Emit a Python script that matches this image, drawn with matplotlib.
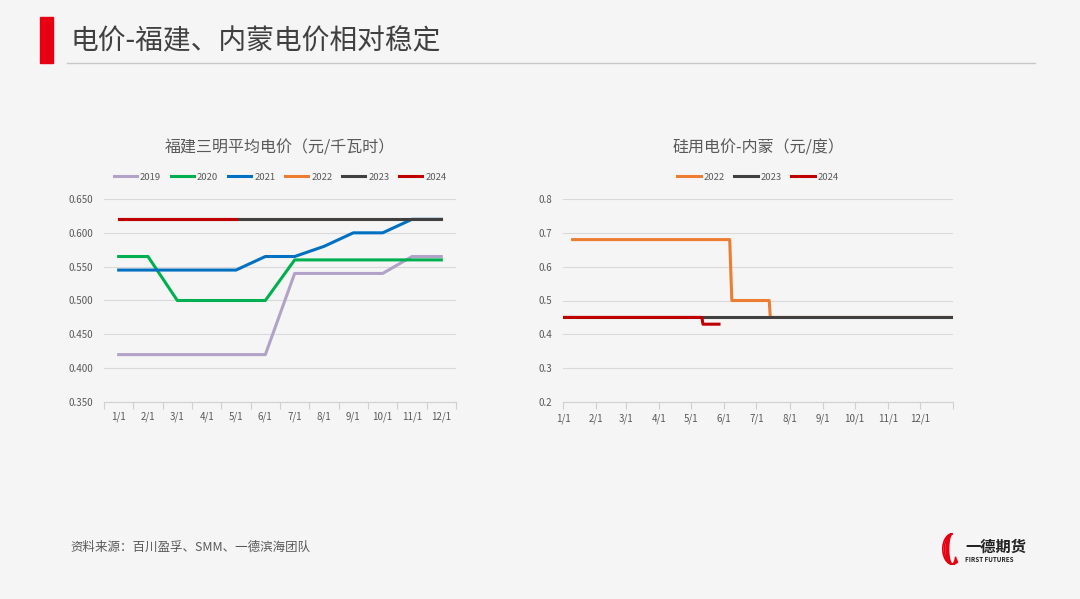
import matplotlib
matplotlib.use("Agg")
import matplotlib.pyplot as plt
from matplotlib.patches import Rectangle, Arc
import datetime as dt

plt.rcParams['font.family'] = ['Noto Sans CJK SC', 'DejaVu Sans']

# ---- data: Fujian Sanming average price (yuan/kWh), monthly categories
months = ['1/1', '2/1', '3/1', '4/1', '5/1', '6/1', '7/1', '8/1', '9/1', '10/1', '11/1', '12/1']
fj_2019 = [0.42, 0.42, 0.42, 0.42, 0.42, 0.42, 0.54, 0.54, 0.54, 0.54, 0.565, 0.565]
fj_2020 = [0.565, 0.565, 0.50, 0.50, 0.50, 0.50, 0.56, 0.56, 0.56, 0.56, 0.56, 0.56]
fj_2021 = [0.545, 0.545, 0.545, 0.545, 0.545, 0.565, 0.565, 0.58, 0.60, 0.60, 0.62, 0.62]
fj_2022 = [0.62] * 12
fj_2023 = [0.62] * 12
fj_2024 = [0.62, 0.62, 0.62, 0.62, 0.62]

# ---- data: Inner Mongolia silicon power price (yuan/kWh), by date
nm_2022_dates = ['01-10', '06-06', '06-08', '07-13', '07-14', '12-31']
nm_2022 = [0.68, 0.68, 0.50, 0.50, 0.45, 0.45]
nm_2023_dates = ['01-01', '12-31']
nm_2023 = [0.45, 0.45]
nm_2024_dates = ['01-01', '05-11', '05-12', '05-27']
nm_2024 = [0.45, 0.45, 0.43, 0.43]

colors = {'2019': '#b3a2c7', '2020': '#00b050', '2021': '#0070c0',
          '2022': '#ed7d31', '2023': '#404040', '2024': '#c00000'}
txt = '#595959'
bg = '#f5f5f5'


def to_date(s):
    m, d = s.split('-')
    return dt.datetime(2023, int(m), int(d))


fig = plt.figure(figsize=(10.8, 5.99), dpi=100)
fig.patch.set_facecolor(bg)

# header
fig.patches.append(Rectangle((40 / 1080, 1 - 63 / 599), 13 / 1080, 46 / 599,
                             transform=fig.transFigure, color='#e60012'))
fig.text(70 / 1080, 1 - 41 / 599, '电价-福建、内蒙电价相对稳定', fontsize=20,
         color='#404040', va='center', ha='left')
fig.add_artist(plt.Line2D([67 / 1080, 1035 / 1080], [1 - 63 / 599, 1 - 63 / 599],
                          transform=fig.transFigure, color='#c8c8c8', lw=1))

# footer
fig.text(70 / 1080, 1 - 547 / 599, '资料来源：百川盈孚、SMM、一德滨海团队', fontsize=9,
         color=txt, va='center', ha='left')
fig.text(965 / 1080, 1 - 547 / 599, '一德期货', fontsize=11, fontweight='bold',
         color='#222222', va='center', ha='left')
fig.text(965 / 1080, 1 - 559 / 599, 'FIRST FUTURES', fontsize=4.5, fontweight='bold',
         color='#222222', va='center', ha='left')
logo = fig.add_axes([938 / 1080, 1 - 565 / 599, 24 / 1080, 32 / 599])
logo.set_xlim(-1, 1)
logo.set_ylim(-1, 1)
logo.axis('off')
for w in [300, 250, 200, 160, 120]:
    logo.add_patch(Arc((0.2, 0), 1.6 * w / 300, 1.9, theta1=90, theta2=300,
                       color='#e60012', lw=1.2))

# ---- left chart
ax1 = fig.add_axes([104 / 1080, 1 - 402 / 599, 352 / 1080, 203 / 599])
ax1.set_facecolor(bg)
x = list(range(12))
ax1.plot(x, fj_2019, color=colors['2019'], lw=2.2, label='2019')
ax1.plot(x, fj_2020, color=colors['2020'], lw=2.2, label='2020')
ax1.plot(x, fj_2021, color=colors['2021'], lw=2.2, label='2021')
ax1.plot(x, fj_2022, color=colors['2022'], lw=2.2, label='2022')
ax1.plot(x, fj_2023, color=colors['2023'], lw=2.2, label='2023')
ax1.plot(x[:len(fj_2024)], fj_2024, color=colors['2024'], lw=2.2, label='2024')
ax1.set_xlim(-0.5, 11.5)
ax1.set_ylim(0.35, 0.65)
ax1.set_yticks([0.35, 0.40, 0.45, 0.50, 0.55, 0.60, 0.65])
ax1.set_yticklabels(['%.3f' % v for v in [0.35, 0.40, 0.45, 0.50, 0.55, 0.60, 0.65]])
ax1.set_xticks([i - 0.5 for i in range(13)])
ax1.set_xticklabels([])
ax1.set_xticks(x, minor=True)
ax1.set_xticklabels(months, minor=True)
ax1.tick_params(axis='x', which='major', length=5, color='#d0d0d0')
ax1.tick_params(axis='x', which='minor', length=0, pad=7, labelsize=7, labelcolor=txt)
ax1.tick_params(axis='y', length=0, labelsize=7, labelcolor=txt, pad=8)
ax1.text(0.5, 1 + 51 / 203, '福建三明平均电价（元/千瓦时）', transform=ax1.transAxes,
         fontsize=11.5, color=txt, ha='center', va='center')
ax1.legend(loc='center', bbox_to_anchor=(0.5, 1 + 22 / 203), ncol=6, frameon=False,
           fontsize=6.8, labelcolor=txt, handlelength=2.5, columnspacing=1.0,
           handletextpad=0.3)

# ---- right chart
ax2 = fig.add_axes([563 / 1080, 1 - 402 / 599, 390 / 1080, 203 / 599])
ax2.set_facecolor(bg)
ax2.plot([to_date(d) for d in nm_2022_dates], nm_2022, color=colors['2022'], lw=2.2, label='2022')
ax2.plot([to_date(d) for d in nm_2023_dates], nm_2023, color=colors['2023'], lw=2.2, label='2023')
ax2.plot([to_date(d) for d in nm_2024_dates], nm_2024, color=colors['2024'], lw=2.2, label='2024')
ax2.set_xlim(dt.datetime(2023, 1, 1), dt.datetime(2024, 1, 1))
ax2.set_ylim(0.2, 0.8)
ax2.set_yticks([0.2, 0.3, 0.4, 0.5, 0.6, 0.7, 0.8])
ax2.set_yticklabels(['%.1f' % v for v in [0.2, 0.3, 0.4, 0.5, 0.6, 0.7, 0.8]])
ax2.set_xticks([dt.datetime(2023, m, 1) for m in range(1, 13)] + [dt.datetime(2024, 1, 1)])
ax2.set_xticklabels(months + [''])
ax2.tick_params(axis='x', length=5, color='#d0d0d0', labelsize=7, labelcolor=txt, pad=3)
ax2.tick_params(axis='y', length=0, labelsize=7, labelcolor=txt, pad=8)
ax2.text(0.5, 1 + 51 / 203, '硅用电价-内蒙（元/度）', transform=ax2.transAxes,
         fontsize=11.5, color=txt, ha='center', va='center')
ax2.legend(loc='center', bbox_to_anchor=(0.5, 1 + 22 / 203), ncol=3, frameon=False,
           fontsize=6.8, labelcolor=txt, handlelength=2.5, columnspacing=1.0,
           handletextpad=0.3)

for ax in (ax1, ax2):
    ax.grid(axis='y', color='#d9d9d9', lw=0.8)
    ax.set_axisbelow(True)
    for s in ('top', 'right', 'left'):
        ax.spines[s].set_visible(False)
    ax.spines['bottom'].set_color('#d0d0d0')

fig.savefig('out.png', dpi=100, facecolor=bg)
